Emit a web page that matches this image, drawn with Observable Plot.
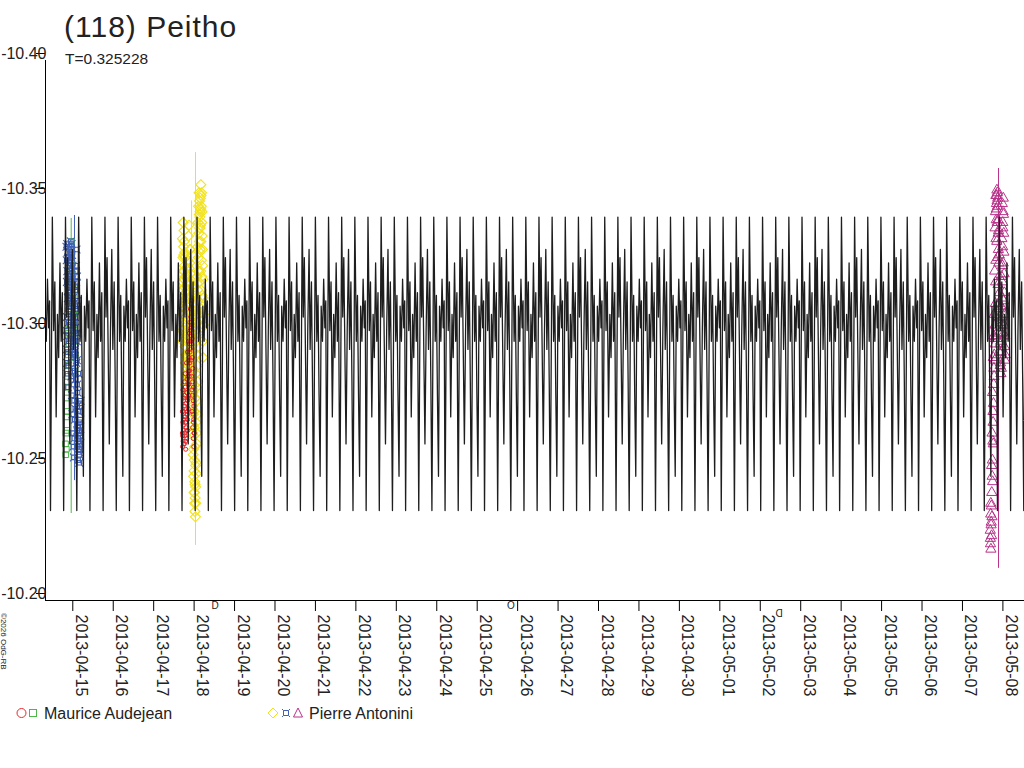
<!DOCTYPE html>
<html>
<head>
<meta charset="utf-8">
<script src="https://cdn.jsdelivr.net/npm/d3@7"></script>
<script src="https://cdn.jsdelivr.net/npm/@observablehq/plot@0.6"></script>
<style>
  body { margin: 0; background: #fff; }
  #wrap { position: relative; width: 1024px; height: 768px; overflow: hidden; background: #fff; }
  #chart { position: absolute; left: 0; top: 0; }
  #deco { position: absolute; left: 0; top: 0; pointer-events: none; font-family: "Liberation Sans", Arial, sans-serif; }
</style>
</head>
<body>
<div id="wrap">
  <div id="chart"></div>
  <svg id="deco" width="1024" height="768">
    <text x="64" y="37" font-size="30" letter-spacing="1" fill="#222">(118) Peitho</text>
    <text x="65" y="64" font-size="15.5" fill="#222">T=0.325228</text>
    <text transform="translate(1,613) rotate(90)" font-size="8" fill="#222">©2026 OdG-RB</text>
    <circle cx="21.5" cy="713" r="4.5" fill="none" stroke="#e8282d" stroke-width="1"/>
    <rect x="29.5" y="709.5" width="7" height="7" fill="none" stroke="#4db848" stroke-width="1"/>
    <text x="44" y="719" font-size="16" fill="#222">Maurice Audejean</text>
    <path d="M273,708 L278,713 L273,718 L268,713 Z" fill="none" stroke="#f2e21c" stroke-width="1"/>
    <path d="M283.5,710.5 h5 v5 h-5 Z M283.5,710.5 l-1.5,-1.5 M288.5,710.5 l1.5,-1.5 M288.5,715.5 l1.5,1.5 M283.5,715.5 l-1.5,1.5" fill="none" stroke="#4060b8" stroke-width="1"/>
    <path d="M298,708 L302.5,717 L293.5,717 Z" fill="none" stroke="#b8328a" stroke-width="1"/>
    <text x="309" y="719" font-size="16" fill="#222">Pierre Antonini</text>
  </svg>
</div>
<script>
// ---------- data ----------
const periodDays = 0.325228;
const modelEpoch = "2013-04-19 07:51";           // a model minimum
// model samples over three consecutive periods (phase in periods), repeating pattern
const modelPhase = [0, 0.14, 0.24, 0.33, 0.43, 0.53, 0.62, 0.72, 0.81, 0.90,
                    1.00, 1.14, 1.22, 1.30, 1.40, 1.47, 1.56, 1.66, 1.74, 1.84, 1.92,
                    2.00, 2.14, 2.25, 2.34, 2.42, 2.50, 2.58, 2.68, 2.77, 2.86, 2.93];
const modelMag   = [-10.2333, -10.342, -10.300, -10.318, -10.268, -10.306, -10.290, -10.325, -10.296, -10.314,
                    -10.2333, -10.342, -10.305, -10.327, -10.286, -10.258, -10.300, -10.330, -10.293, -10.318, -10.281,
                    -10.2333, -10.342, -10.296, -10.313, -10.276, -10.246, -10.309, -10.296, -10.319, -10.301, -10.311];
const modelRepeat = 3;            // periods covered by the sample table
const modelBlocks = [-6, 20];     // repetitions of the table across the time span

const yTicks = [-10.40, -10.35, -10.30, -10.25, -10.20];
const xTickLabels = ["2013-04-15","2013-04-16","2013-04-17","2013-04-18","2013-04-19","2013-04-20","2013-04-21","2013-04-22","2013-04-23","2013-04-24","2013-04-25","2013-04-26","2013-04-27","2013-04-28","2013-04-29","2013-04-30","2013-05-01","2013-05-02","2013-05-03","2013-05-04","2013-05-05","2013-05-06","2013-05-07","2013-05-08"];
const xDomain = ["2013-04-14 07:48", "2013-05-08 12:49"];

// Maurice Audejean — squares (green): session start + minutes
const audSqStart = "2013-04-14 19:40";
const audSqMin = [0,9,19,29,38,48,58,68,77,87,97,106,116,126,136,145,155,165,174,184,194,204,213,223,233,242,252,262,272,281,291,301,310,320,330,340,349,359,369,378,388];
const audSqMag = [-10.258,-10.254,-10.262,-10.256,-10.268,-10.263,-10.275,-10.270,-10.283,-10.279,-10.291,-10.287,-10.299,-10.295,-10.306,-10.302,-10.314,-10.310,-10.322,-10.318,-10.329,-10.325,-10.333,-10.328,-10.322,-10.316,-10.319,-10.309,-10.313,-10.302,-10.306,-10.296,-10.300,-10.290,-10.294,-10.285,-10.291,-10.299,-10.307,-10.315,-10.320];

// Maurice Audejean — circles (red)
const audCiStart = "2013-04-17 17:00";
const audCiMin = [0,9,19,28,37,47,56,65,75,84,93,103,112,121,131,140,149,159,168,177,187,196,205,215,224,233,243,252,261,271,280,289,299,308,317,327,336,345,355,364,373,383,392,401,411,420,
                  4,14,23,32,42,51,60,70,79,88,98,107,116,126,135,144,154,163,172,182,191,200,210,219,228,238,247,256,266,275,284,294,303,312,322,331,340,350,359,368,378,387,396,406,415];
const audCiMag = [-10.262,-10.257,-10.266,-10.259,-10.270,-10.263,-10.275,-10.268,-10.258,-10.272,-10.261,-10.279,-10.266,-10.256,-10.271,-10.264,-10.277,-10.260,-10.282,-10.269,-10.274,-10.263,-10.280,-10.271,-10.285,-10.276,-10.290,-10.283,-10.295,-10.288,-10.300,-10.293,-10.305,-10.298,-10.310,-10.302,-10.311,-10.297,-10.290,-10.281,-10.286,-10.274,-10.279,-10.267,-10.272,-10.262,
                  -10.270,-10.261,-10.278,-10.265,-10.258,-10.274,-10.267,-10.281,-10.262,-10.276,
                  -10.268,-10.284,-10.259,-10.273,-10.266,-10.288,-10.263,-10.277,-10.270,-10.292,
                  -10.267,-10.283,-10.275,-10.296,-10.280,-10.289,-10.299,-10.285,-10.303,-10.292,
                  -10.308,-10.296,-10.301,-10.289,-10.295,-10.283,-10.278,-10.270,-10.276,-10.264,
                  -10.269,-10.260,-10.266,-10.257,-10.262];

// Pierre Antonini — quad symbols (blue)
const antQuStart = "2013-04-14 20:10";
const antQuMin = [0,8,17,25,34,42,51,59,68,76,85,93,102,110,119,127,136,144,153,161,170,178,187,195,204,212,221,229,238,246,255,263,272,280,289,297,306,314,323,331,340,348,357,365,374,382,391,399,408,416,425,433,442,450,459,467,476,484,493,505,
                  4,13,21,30,38,47,55,64,72,81,89,98,106,115,123,132,140,149,157,166,174,183,191,200,208,217,225,234,242,251,259,268,276,285,293,302,310,319,327,336,344,353,361,370,378,387,395,404,412,421,429,438,446,455,463,472,480,489,497];
const antQuMag = [-10.300,-10.293,-10.305,-10.288,-10.298,-10.284,-10.292,-10.279,-10.287,-10.296,
                  -10.303,-10.311,-10.307,-10.318,-10.314,-10.324,-10.320,-10.329,-10.326,-10.333,
                  -10.330,-10.327,-10.332,-10.323,-10.328,-10.319,-10.324,-10.312,-10.317,-10.305,
                  -10.310,-10.298,-10.303,-10.291,-10.296,-10.285,-10.293,-10.301,-10.309,-10.316,
                  -10.322,-10.318,-10.308,-10.299,-10.289,-10.280,-10.272,-10.277,-10.265,-10.270,
                  -10.260,-10.264,-10.255,-10.259,-10.251,-10.256,-10.262,-10.258,-10.267,-10.274,
                  -10.331,-10.326,-10.318,-10.332,-10.322,-10.329,-10.312,-10.327,-10.315,-10.321,
                  -10.306,-10.325,-10.309,-10.331,-10.302,-10.319,-10.297,-10.313,-10.328,-10.290,
                  -10.316,-10.283,-10.310,-10.276,-10.300,-10.269,-10.294,-10.262,-10.286,-10.257,
                  -10.280,-10.253,-10.274,-10.260,-10.292,-10.267,-10.305,-10.271,-10.315,-10.282,
                  -10.324,-10.288,-10.330,-10.296,-10.320,-10.263,-10.311,-10.257,-10.299,-10.252,
                  -10.284,-10.259,-10.270,-10.254,-10.263,-10.266,-10.256,-10.273,-10.261];

// Pierre Antonini — diamonds (yellow)
const antDiStart = "2013-04-17 17:00";
const antDiMin = [0,8,17,25,33,42,50,58,67,75,83,92,100,108,117,125,133,142,150,158,167,175,183,192,200,208,217,225,233,242,250,258,267,275,283,292,300,308,317,325,333,342,350,358,367,375,383,392,400,408,417,425,433,442,450,458,467,475,483,492,500,508,517,525,533,542,550,558,567,575,583,592,600,608,617,625,633,642,650,658,667,675,683,692,700,708,717,725,733,742,750,
                  4,12,21,29,37,46,54,62,71,79,87,96,104,112,121,129,137,146,154,162,171,179,187,196,204,212,221,229,237,246,254,262,271,279,287,296,304,312,321,329,337,346,354,362,371,379,387,396,404,412,421,429,437,446,454,462,471,479,487,496,504,512,521,529,537,546,554,562,571,579,587,596,604,612,621,629,637,646,654,662,671,679,687,696,704,712,721,729,737,746];
const antDiMag = [-10.300,-10.309,-10.296,-10.315,-10.322,-10.311,-10.328,-10.319,-10.333,-10.324,-10.316,-10.327,-10.308,-10.314,-10.299,-10.305,-10.291,-10.297,-10.284,-10.290,-10.279,-10.286,-10.276,-10.283,-10.292,-10.287,-10.301,-10.296,-10.310,-10.304,-10.318,-10.312,-10.325,-10.317,-10.330,-10.321,-10.313,
                  -10.305,-10.298,-10.302,-10.289,-10.294,-10.281,-10.286,-10.272,-10.277,-10.265,-10.269,-10.256,-10.261,-10.248,-10.252,-10.240,-10.244,-10.233,-10.238,-10.231,-10.242,-10.236,-10.251,-10.247,
                  -10.262,-10.258,-10.274,-10.269,-10.287,-10.281,-10.299,-10.294,-10.311,-10.306,-10.322,-10.318,-10.333,-10.329,-10.342,-10.338,-10.349,-10.345,-10.354,-10.350,-10.346,-10.351,-10.340,-10.344,-10.335,-10.330,-10.324,-10.319,-10.312,-10.306,
                  -10.334,-10.318,-10.327,-10.340,-10.306,-10.331,-10.313,-10.337,-10.322,-10.301,
                  -10.329,-10.294,-10.320,-10.288,-10.311,-10.280,-10.303,-10.277,-10.296,-10.284,
                  -10.309,-10.291,-10.317,-10.299,-10.326,-10.307,-10.335,-10.315,-10.339,-10.323,
                  -10.312,-10.330,-10.300,-10.318,-10.291,-10.308,-10.283,-10.297,-10.276,-10.290,
                  -10.280,-10.299,-10.271,-10.292,-10.262,-10.285,-10.254,-10.278,-10.246,-10.270,
                  -10.240,-10.264,-10.236,-10.257,-10.243,-10.275,-10.250,-10.284,-10.266,-10.296,
                  -10.279,-10.308,-10.291,-10.320,-10.303,-10.331,-10.315,-10.340,-10.327,-10.346,
                  -10.336,-10.351,-10.343,-10.348,-10.338,-10.344,-10.330,-10.339,-10.322,-10.333,
                  -10.315,-10.326,-10.308,-10.320,-10.301,-10.313,-10.296,-10.307,-10.290,-10.302];

// Pierre Antonini — triangles (magenta)
const antTrStart = "2013-05-07 16:30";
const antTrMin = [0,8,15,23,30,38,46,53,61,68,76,84,91,99,106,114,122,129,137,144,152,160,167,175,182,190,198,205,213,220,228,236,243,251,258,266,274,281,289,296,304,312,319,327,334,342,350,357,365,372,380,388,395,403,410,418,426,433,441,448,456,464,471,479,486,494,502,509,517,530,
                  4,19,34,49,64,80,95,110,125,140,156,171,186,201,216,232,247,262,277,292,308,323,338,353,368,384,399,414,429,444,460,475,490,505,520];
const antTrMag = [-10.226,-10.221,-10.232,-10.219,-10.228,-10.235,-10.224,-10.240,-10.231,-10.246,
                  -10.252,-10.244,-10.259,-10.266,-10.258,-10.273,-10.280,-10.286,-10.283,-10.291,
                  -10.297,-10.289,-10.302,-10.295,-10.310,-10.318,-10.326,-10.334,-10.341,-10.347,
                  -10.350,-10.352,-10.348,-10.351,-10.346,-10.349,-10.341,-10.336,-10.330,-10.337,
                  -10.325,-10.320,-10.328,-10.314,-10.308,-10.301,-10.295,-10.303,-10.288,-10.297,
                  -10.284,-10.292,-10.286,-10.299,-10.305,-10.312,-10.318,-10.324,-10.331,-10.338,
                  -10.344,-10.349,-10.343,-10.336,-10.329,-10.321,-10.314,-10.306,-10.298,-10.291,
                  -10.223,-10.236,-10.229,-10.250,-10.262,-10.277,-10.270,-10.290,-10.298,-10.306,
                  -10.322,-10.338,-10.344,-10.350,-10.345,-10.333,-10.340,-10.327,-10.317,-10.310,
                  -10.299,-10.292,-10.305,-10.287,-10.296,-10.309,-10.320,-10.334,-10.347,-10.340,
                  -10.325,-10.311,-10.302,-10.294,-10.289];

// long error bars
const barSeries = ["audSq", "antQu", "antDi", "antDi", "antTr"];
const barTime   = ["2013-04-14 23:03", "2013-04-15 01:00", "2013-04-18 00:49", "2013-04-17 22:30", "2013-05-07 21:24"];
const barLo     = [-10.3415, -10.3426, -10.3659, -10.348, -10.360];
const barHi     = [-10.2322, -10.2444, -10.2204, -10.268, -10.2119];

// moon phases
const moonTime  = ["2013-04-18 12:31", "2013-04-25 19:57", "2013-05-02 11:14"];
const moonPhase = ["first", "full", "last"];

// ---------- build ----------
const parseT = d3.utcParse("%Y-%m-%d %H:%M");
const series = (start, mins, mags) => {
  const s = parseT(start).getTime();
  return mins.map((m, i) => ({t: new Date(s + m * 60000), m: mags[i]}));
};

const t0 = parseT(modelEpoch).getTime();
const model = [];
for (let k = modelBlocks[0]; k <= modelBlocks[1]; k++) {
  modelPhase.forEach((p, i) => model.push({t: new Date(t0 + (k * modelRepeat + p) * periodDays * 86400000), m: modelMag[i]}));
}

const colors = {audCi: "#e8282d", audSq: "#4db848", antDi: "#f2e21c", antQu: "#4060b8", antTr: "#b8328a"};
const bars = barSeries.map((s, i) => ({s, t: parseT(barTime[i]), lo: barLo[i], hi: barHi[i]}));
const xTicks = xTickLabels.map(s => d3.utcParse("%Y-%m-%d")(s));
const moons = moonTime.map((t, i) => ({t: parseT(t), p: moonPhase[i]}));

const quad = {
  draw(ctx, size) {
    const a = Math.sqrt(size) * 0.34, b = a * 0.75;
    ctx.moveTo(-a, -a); ctx.lineTo(a, -a); ctx.lineTo(a, a); ctx.lineTo(-a, a); ctx.closePath();
    ctx.moveTo(-a, -a); ctx.lineTo(-a - b, -a - b);
    ctx.moveTo(a, -a); ctx.lineTo(a + b, -a - b);
    ctx.moveTo(a, a); ctx.lineTo(a + b, a + b);
    ctx.moveTo(-a, a); ctx.lineTo(-a - b, a + b);
  }
};

const xStart = parseT(xDomain[0]);
const chart = Plot.plot({
  width: 1024,
  height: 768,
  marginTop: 60,
  marginBottom: 168,
  marginLeft: 45,
  marginRight: 0,
  style: {fontFamily: "'Liberation Sans', Arial, sans-serif", fontSize: "16px", color: "#222", background: "#fff"},
  x: {type: "utc", domain: [xStart, parseT(xDomain[1])]},
  y: {domain: [yTicks[0], yTicks[yTicks.length - 1]], reverse: true},
  marks: [
    Plot.ruleX(bars, {x: "t", y1: "lo", y2: "hi", stroke: d => colors[d.s], strokeWidth: 1}),
    Plot.dot(series(audSqStart, audSqMin, audSqMag), {x: "t", y: "m", symbol: "square", r: 3.2, stroke: colors.audSq, fill: "none", strokeWidth: 1}),
    Plot.dot(series(antQuStart, antQuMin, antQuMag), {x: "t", y: "m", symbol: quad, r: 3.7, stroke: colors.antQu, fill: "none", strokeWidth: 1.1}),
    Plot.dot(series(antDiStart, antDiMin, antDiMag), {x: "t", y: "m", symbol: "diamond2", r: 4.5, stroke: colors.antDi, fill: "none", strokeWidth: 1.1}),
    Plot.dot(series(audCiStart, audCiMin, audCiMag), {x: "t", y: "m", symbol: "circle", r: 2, stroke: colors.audCi, fill: "none", strokeWidth: 1}),
    Plot.dot(series(antTrStart, antTrMin, antTrMag), {x: "t", y: "m", symbol: "triangle", r: 3.8, stroke: colors.antTr, fill: "none", strokeWidth: 1}),
    Plot.line(model, {x: "t", y: "m", stroke: "#1e1e1e", strokeWidth: 1.3, clip: true}),
    Plot.ruleX([xStart], {stroke: "#000"}),
    Plot.ruleY([yTicks[yTicks.length - 1]], {stroke: "#000"}),
    Plot.axisY({ticks: yTicks, tickSize: 9, tickPadding: -10, dy: -7, tickFormat: d => d.toFixed(2), fontSize: 16, label: null, stroke: "#000"}),
    Plot.axisX({ticks: xTicks, tickSize: 11, tickFormat: () => "", label: null, stroke: "#000"}),
    Plot.text(xTicks, {x: d => d, text: (d, i) => xTickLabels[i], frameAnchor: "bottom", rotate: 90, textAnchor: "start", dx: 3, dy: 14, fontSize: 16, fill: "#222"}),
    Plot.text(moons, {x: "t", text: d => d.p === "full" ? "O" : "D", rotate: d => d.p === "last" ? 180 : 0, frameAnchor: "bottom", dy: 8, fontSize: 10, fill: "#222"})
  ]
});
document.getElementById("chart").appendChild(chart);
</script>
</body>
</html>
